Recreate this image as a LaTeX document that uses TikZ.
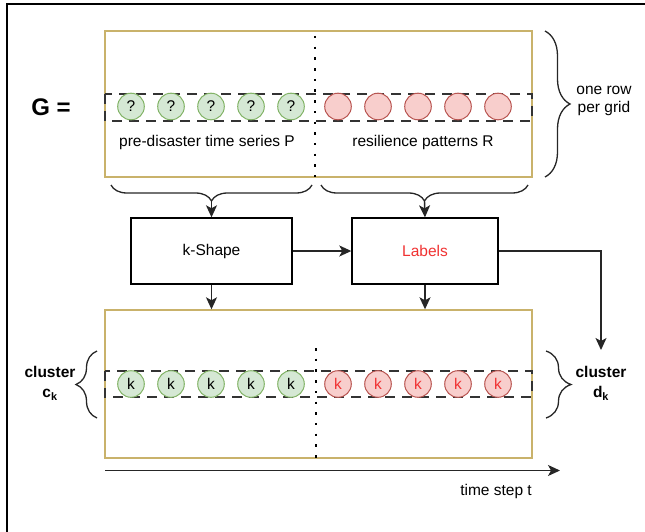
\documentclass[tikz,border=0pt]{standalone}
\usepackage{fontspec}
\setmainfont{Liberation Sans}
\usetikzlibrary{arrows.meta,decorations.pathreplacing,calc}
\definecolor{gold}{RGB}{201,178,107}
\definecolor{gfill}{HTML}{D5E8D4}
\definecolor{gline}{HTML}{82B366}
\definecolor{rfill}{HTML}{F8CECC}
\definecolor{rline}{HTML}{B85450}
\definecolor{lblred}{RGB}{240,50,50}
\begin{document}
\begin{tikzpicture}[x=1pt,y=-1pt,
  font=\fontsize{15.5}{19}\selectfont,
  panel/.style={draw=gold,line width=1.4pt,minimum width=427pt,inner sep=0pt},
  procbox/.style={draw=black,line width=1.4pt,minimum height=66pt,inner sep=0pt},
  dashrow/.style={draw=black!80,line width=1.4pt,dash pattern=on 10pt off 7pt},
  dotline/.style={line width=2.5pt,dash pattern=on 2.5pt off 8.2pt},
  gc/.style={circle,draw=gline,fill=gfill,line width=1pt,minimum size=26.6pt,inner sep=0pt},
  rc/.style={circle,draw=rline,fill=rfill,line width=1pt,minimum size=26.6pt,inner sep=0pt,text=lblred},
  arr/.style={draw=black!85,line width=1.4pt,-{Stealth[length=12pt,width=11pt,inset=3pt]}},
  bracestyle/.style={draw=black!85,line width=1.3pt,decorate,decoration={brace,amplitude=#1}},
  lbl/.style={inner sep=0pt,align=center}]
\useasboundingbox (0,0) rectangle (645,532);
% outer frame
\draw[line width=2pt] (7,540) -- (7,4.5) -- (650,4.5);

% top panel
\node[panel,minimum height=146pt] (top) at (318.5,104) {};
\draw[dashrow] (105,94) rectangle (532,121);
\draw[dotline] (315,36) -- (315,177);
\foreach \x/\n in {131/1,171/2,211/3,251/4,291/5}
  \node[gc] (q\n) at (\x,106.5) {?};
\foreach \x/\n in {338/1,378/2,418/3,458/4,498/5}
  \node[rc] (r\n) at (\x,106.5) {};
\node[lbl] (ptxt) at (207,142.5) {pre-disaster time series P};
\node[lbl] (rtxt) at (423,142.5) {resilience patterns R};
\node[lbl,font=\fontsize{24}{28}\selectfont\bfseries] (G) at (51,107) {G =};

% right brace top
\draw[bracestyle=25pt] (545,31) -- (545,177);
\node[lbl] (rowtxt) at (604,101) {one row\\[-1pt]per grid};

% braces below top panel
\draw[bracestyle=16pt] (312,185) -- (111,185);
\draw[bracestyle=16pt] (528,185) -- (321,185);
\coordinate (bl) at (211.5,201);
\coordinate (br) at (424.5,201);

% process boxes
\node[procbox,minimum width=161pt] (kshape) at (211.5,251) {k-Shape};
\node[procbox,minimum width=146pt,text=lblred] (labels) at (425,251) {Labels};

\draw[arr] (bl) -- (kshape.north);
\draw[arr] (br) -- (labels.north);
\draw[arr] (kshape.east) -- (labels.west);

% bottom panel
\node[panel,minimum height=148pt] (bot) at (318.5,384) {};
\draw[dashrow] (105,371) rectangle (532,397);
\draw[dotline] (316,348) -- (316,458);
\foreach \x/\n in {131/1,171/2,211/3,251/4,291/5}
  \node[gc] (k\n) at (\x,384) {k};
\foreach \x/\n in {338/1,378/2,418/3,458/4,498/5}
  \node[rc] (s\n) at (\x,384) {k};

\draw[arr] (kshape.south) -- (kshape.south |- bot.north);
\draw[arr] (labels.south) -- (labels.south |- bot.north);

\coordinate (dk) at (601,350);
\draw[arr] (labels.east) -| (dk);

% side braces bottom
\draw[bracestyle=21pt] (97,418) -- (97,351);
\draw[bracestyle=25pt] (546,351) -- (546,418);
\node[lbl,font=\fontsize{15.5}{20}\selectfont\bfseries] (cl) at (50,383) {cluster\\c\textsubscript{k}};
\node[lbl,font=\fontsize{15.5}{20}\selectfont\bfseries] (cr) at (601,383) {cluster\\d\textsubscript{k}};

% time axis
\coordinate (t0) at (105,470.5);
\coordinate (t1) at (560,470.5);
\draw[arr] (t0) -- (t1);
\node[lbl] (ttxt) at (496,491) {time step t};
\end{tikzpicture}
\end{document}
